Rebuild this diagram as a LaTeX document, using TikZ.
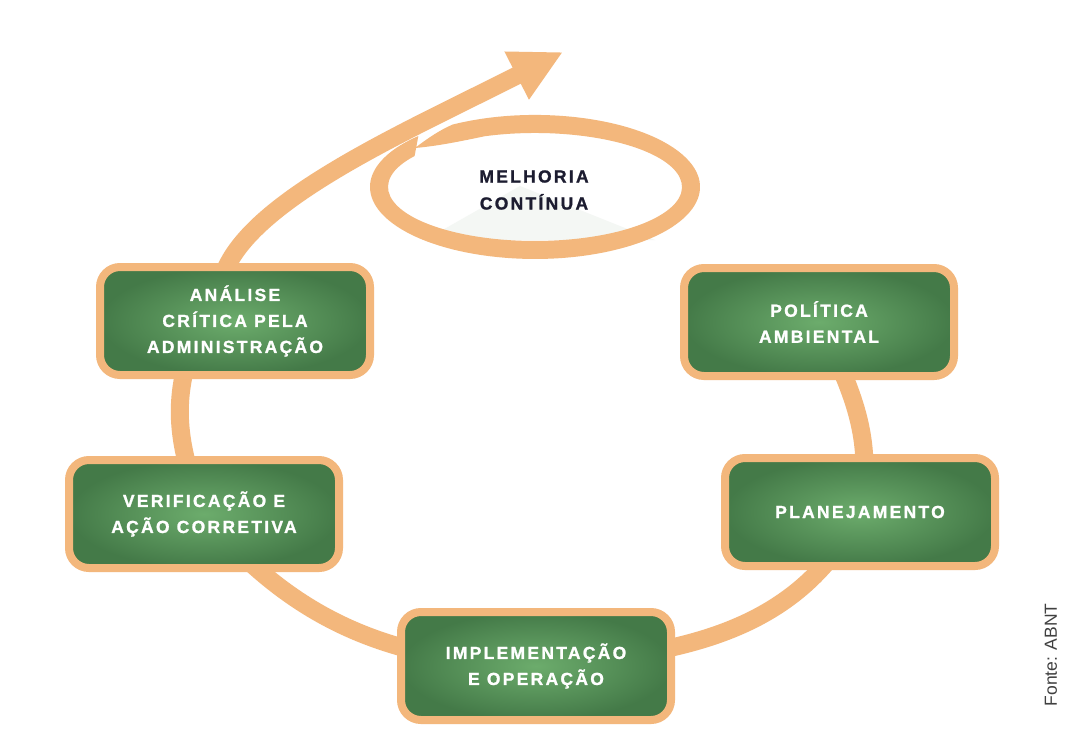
\documentclass[tikz,border=0pt]{standalone}
\usepackage{fontspec}
\setmainfont{Liberation Sans}
\newfontfamily\boxfont[LetterSpace=13,FakeBold=1.2]{Liberation Sans Bold}
\usetikzlibrary{arrows.meta}
\definecolor{orng}{RGB}{243,183,124}
\definecolor{gin}{RGB}{108,172,108}
\definecolor{gout}{RGB}{68,122,72}
\definecolor{navy}{RGB}{28,28,48}
\definecolor{faint}{RGB}{244,247,244}
\pgfdeclarelayer{back}
\pgfsetlayers{back,main}
\begin{document}
\begin{tikzpicture}[x=1pt,y=1pt,
  stepbox/.style={draw=orng, line width=8pt, rounded corners=20pt,
    inner color=gin, outer color=gout, minimum width=270pt, minimum height=108pt,
    align=center, text=white, font=\boxfont\fontsize{17.5}{26}\selectfont},
  ring/.style={draw=orng, line width=18pt},
  band/.style={fill=orng, draw=none},
  title/.style={align=center, text=navy, font=\boxfont\fontsize{17.5}{27}\selectfont},
  source/.style={text=black!75, font=\fontsize{17.5}{19}\selectfont, rotate=90}]
\useasboundingbox (0,0) rectangle (1081,-747);

\node[stepbox] (ana) at (235,-321) {ANÁLISE\\CRÍTICA PELA\\ADMINISTRAÇÃO};
\node[stepbox] (pol) at (819,-322) {POLÍTICA\\AMBIENTAL};
\node[stepbox] (plan) at (860,-512) {PLANEJAMENTO};
\node[stepbox] (ver) at (204,-514) {VERIFICAÇÃO E\\AÇÃO CORRETIVA};
\node[stepbox] (imp) at (536,-666) {IMPLEMENTAÇÃO\\E OPERAÇÃO};
\node[title] (mel) at (534,-190) {MELHORIA\\CONTÍNUA};
\node[source] (fonte) at (1051,-655) {Fonte: ABNT};

\coordinate (topA) at (227,-266);
\coordinate (tip) at (563,-52);

\begin{pgfonlayer}{back}
  \fill[white] (0,0) rectangle (1081,-747);
  \fill[faint] (425,-240) -- (520,-186) -- (655,-240) -- cycle;
  \draw[ring, -{Triangle[length=52pt,width=50pt]}]
    (pol.center) to[out=-64,in=79] (plan.center)
    to[out=-117,in=5] (imp.center)
    to[out=178,in=-50] (ver.center)
    to[out=112,in=-116,looseness=1.15] (topA)
    to[out=64,in=207,out distance=80pt,in distance=170pt] (tip);
  \fill[band] (415,-148) .. controls (428,-138) and (440,-130) .. (452.5,-124.6)
    arc[start angle=120, end angle=-225, x radius=165, y radius=72]
    -- (414.6,-156)
    arc[start angle=-215, end angle=110, x radius=147, y radius=54]
    .. controls (462,-141) and (438,-146) .. (415,-148) -- cycle;
\end{pgfonlayer}
\end{tikzpicture}
\end{document}
